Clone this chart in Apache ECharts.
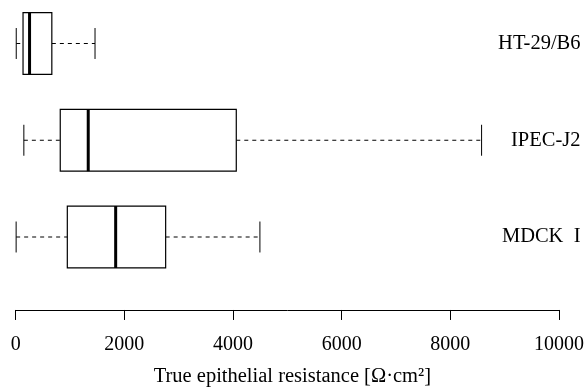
<!DOCTYPE html>
<html>
<head>
<meta charset="utf-8">
<script src="https://cdn.jsdelivr.net/npm/echarts@6/dist/echarts.min.js"></script>
<style>
html,body{margin:0;padding:0;background:#fff;}
#chart{width:585px;height:390px;}
</style>
</head>
<body>
<div id="chart"></div>
<script>
// Categories (top to bottom)
const categories = ["HT-29/B6", "IPEC-J2", "MDCK  I"];
// Box statistics per category
const whiskerLow  = [10, 150, 8];
const quartile1   = [135, 820, 950];
const medians     = [255, 1335, 1840];
const quartile3   = [665, 4060, 2760];
const whiskerHigh = [1460, 8575, 4495];
// Axis ticks
const xTicks = [0, 2000, 4000, 6000, 8000, 10000];
const xTitle = "True epithelial resistance [\u03A9\u00B7cm\u00B2]";

const FONT = "Liberation Serif";

const data = categories.map((c, i) => [i, whiskerLow[i], quartile1[i], medians[i], quartile3[i], whiskerHigh[i]]);

function renderItem(params, api) {
  const cat = api.value(0);
  const pLow = api.coord([api.value(1), cat]);
  const pQ1 = api.coord([api.value(2), cat]);
  const pMed = api.coord([api.value(3), cat]);
  const pQ3 = api.coord([api.value(4), cat]);
  const pHigh = api.coord([api.value(5), cat]);
  const band = api.size([0, 1])[1];
  const boxH = band * 0.64;
  const capH = boxH / 2;
  const cy = pMed[1];
  const top = cy - boxH / 2;
  const dash = {stroke: '#000', lineWidth: 1, lineDash: [4, 4], fill: null};
  const solid = {stroke: '#000', lineWidth: 1, fill: null};
  return {
    type: 'group',
    children: [
      {type: 'line', shape: {x1: pLow[0], y1: cy, x2: pQ1[0], y2: cy}, style: dash},
      {type: 'line', shape: {x1: pQ3[0], y1: cy, x2: pHigh[0], y2: cy}, style: dash},
      {type: 'line', shape: {x1: pLow[0], y1: cy - capH / 2, x2: pLow[0], y2: cy + capH / 2}, style: solid},
      {type: 'line', shape: {x1: pHigh[0], y1: cy - capH / 2, x2: pHigh[0], y2: cy + capH / 2}, style: solid},
      {type: 'rect', shape: {x: pQ1[0], y: top, width: pQ3[0] - pQ1[0], height: boxH}, style: {stroke: '#000', lineWidth: 1.2, fill: '#fff'}},
      {type: 'line', shape: {x1: pMed[0], y1: top, x2: pMed[0], y2: top + boxH}, style: {stroke: '#000', lineWidth: 3}}
    ]
  };
}

const chart = echarts.init(document.getElementById('chart'), null, {renderer: 'canvas'});
chart.setOption({
  animation: false,
  backgroundColor: '#fff',
  grid: {left: 15.7, right: 26, top: -4.875, bottom: 104.625, containLabel: false, outerBoundsMode: 'none'},
  xAxis: {
    type: 'value',
    min: xTicks[0],
    max: xTicks[xTicks.length - 1],
    interval: xTicks[1] - xTicks[0],
    offset: 24.6,
    splitLine: {show: false},
    axisLine: {show: true, lineStyle: {color: '#000', width: 1}},
    axisTick: {show: true, length: 10, lineStyle: {color: '#000', width: 1}},
    axisLabel: {
      margin: 25, color: '#000', fontFamily: FONT, fontSize: 20,
      formatter: v => xTicks.includes(v) ? String(v) : ''
    },
    name: xTitle,
    nameLocation: 'middle',
    nameGap: 56,
    nameTextStyle: {color: '#000', fontFamily: FONT, fontSize: 20.5, padding: [0, 0, 0, 10]}
  },
  yAxis: {
    type: 'category',
    data: categories,
    inverse: true,
    position: 'right',
    axisLine: {show: false},
    axisTick: {show: false},
    splitLine: {show: false},
    axisLabel: {margin: 21.5, align: 'right', color: '#000', fontFamily: FONT, fontSize: 20.5}
  },
  series: [{
    type: 'custom',
    renderItem: renderItem,
    encode: {x: [1, 2, 3, 4, 5], y: 0},
    data: data,
    clip: false
  }]
});
</script>
</body>
</html>
